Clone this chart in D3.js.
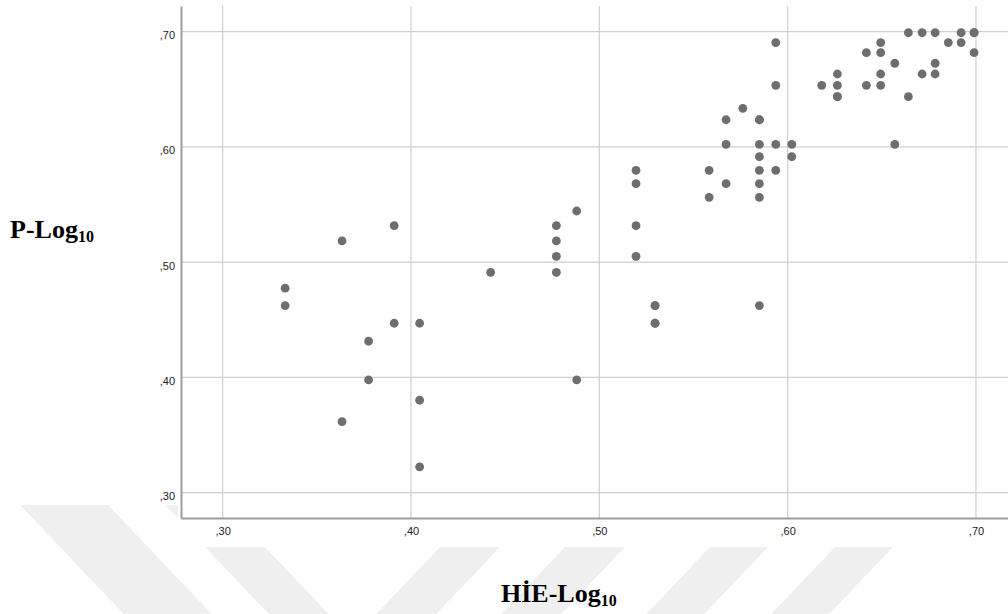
<!DOCTYPE html>
<html>
<head>
<meta charset="utf-8">
<script src="https://cdn.jsdelivr.net/npm/d3@7"></script>
<style>
  body { margin: 0; background: #fff; }
</style>
</head>
<body>
<div id="chart"></div>
<script>
// HİE-Log10 (x) and P-Log10 (y) values
const hieLog = [
  0.3911, 0.3634, 0.3332, 0.3332, 0.3911, 0.4046, 0.3775, 0.3775, 0.4046, 0.3634,
  0.4046, 0.4423, 0.4772, 0.4772, 0.4772, 0.4772, 0.4880, 0.5195, 0.5195, 0.5195,
  0.5195, 0.5296, 0.5296, 0.5296, 0.5296, 0.4880, 0.5583, 0.5583, 0.5673, 0.5850,
  0.5850, 0.5850, 0.5850, 0.5937, 0.5937, 0.5937, 0.5762, 0.5673, 0.5850, 0.5850,
  0.5673, 0.5850, 0.5937, 0.6022, 0.5850, 0.6022, 0.6569, 0.6181, 0.6264, 0.6264,
  0.6264, 0.6264, 0.6418, 0.6418, 0.6494, 0.6494, 0.6494, 0.6494, 0.6569, 0.6641,
  0.6641, 0.6714, 0.6714, 0.6783, 0.6783, 0.6783, 0.6853, 0.6921, 0.6921, 0.6990,
  0.6990, 0.6990
];
const pLog = [
  0.5317, 0.5184, 0.4774, 0.4623, 0.4470, 0.4470, 0.4314, 0.3978, 0.3802, 0.3616,
  0.3223, 0.4912, 0.5317, 0.5184, 0.5051, 0.4912, 0.5444, 0.5797, 0.5681, 0.5317,
  0.5051, 0.4623, 0.4623, 0.4470, 0.4470, 0.3978, 0.5797, 0.5563, 0.5681, 0.5797,
  0.5681, 0.5563, 0.4623, 0.5797, 0.6906, 0.6535, 0.6335, 0.6236, 0.6236, 0.6236,
  0.6023, 0.6023, 0.6023, 0.6023, 0.5915, 0.5915, 0.6023, 0.6535, 0.6633, 0.6535,
  0.6436, 0.6436, 0.6818, 0.6535, 0.6906, 0.6818, 0.6633, 0.6535, 0.6726, 0.6991,
  0.6436, 0.6991, 0.6633, 0.6991, 0.6726, 0.6633, 0.6906, 0.6991, 0.6906, 0.6991,
  0.6991, 0.6818
];
const xTicks = [0.30, 0.40, 0.50, 0.60, 0.70];
const yTicks = [0.30, 0.40, 0.50, 0.60, 0.70];

const W = 1008, H = 614;
const svg = d3.select('#chart').append('svg')
  .attr('width', W)
  .attr('height', H);

// faint background watermark stripes below the chart
const clip = svg.append('clipPath').attr('id', 'wm');
clip.append('rect').attr('x', 0).attr('y', 505).attr('width', 178).attr('height', 109);
clip.append('rect').attr('x', 0).attr('y', 547).attr('width', W).attr('height', 67);

const stripes = [
  { x0: 60, w: 88, dir: 1 },
  { x0: 205, w: 60, dir: 1 },
  { x0: 440, w: 60, dir: -1 },
  { x0: 565, w: 60, dir: -1 },
  { x0: 710, w: 58, dir: -1 },
  { x0: 835, w: 58, dir: -1 }
];
svg.append('g')
  .attr('clip-path', 'url(#wm)')
  .selectAll('polygon')
  .data(stripes)
  .enter().append('polygon')
  .attr('points', d => {
    const yt = 505, yb = 614, k = 0.95 * d.dir;
    const xt = d.x0 + (yt - 547) * k, xb = d.x0 + (yb - 547) * k;
    return [[xt, yt], [xt + d.w, yt], [xb + d.w, yb], [xb, yb]].join(' ');
  })
  .attr('fill', '#efefef');

const x = d3.scaleLinear().domain([0.2779, 0.717]).range([181, 1008]);
const y = d3.scaleLinear().domain([0.278, 0.7223]).range([518, 6]);

const fmt = d => d3.format('.2f')(d).replace(/^0\./, ',');

// grid
svg.append('g').selectAll('line')
  .data(xTicks)
  .enter().append('line')
  .attr('x1', d => x(d)).attr('x2', d => x(d))
  .attr('y1', y.range()[1]).attr('y2', y.range()[0])
  .attr('stroke', '#cfcfcf')
  .attr('stroke-width', 1.2);
svg.append('g').selectAll('line')
  .data(yTicks)
  .enter().append('line')
  .attr('x1', x.range()[0]).attr('x2', x.range()[1])
  .attr('y1', d => y(d)).attr('y2', d => y(d))
  .attr('stroke', '#cfcfcf')
  .attr('stroke-width', 1.2);

// axes
const xAxis = svg.append('g')
  .attr('transform', `translate(0,${y.range()[0]})`)
  .call(d3.axisBottom(x).tickValues(xTicks).tickFormat(fmt).tickSize(0).tickSizeOuter(0).tickPadding(9));
const yAxis = svg.append('g')
  .attr('transform', `translate(${x.range()[0]},0)`)
  .call(d3.axisLeft(y).tickValues(yTicks).tickFormat(fmt).tickSize(0).tickSizeOuter(0).tickPadding(6));

[xAxis, yAxis].forEach(g => {
  g.select('.domain').attr('stroke', '#9d9d9d').attr('stroke-width', 2);
  g.selectAll('text')
    .style('font-family', '"Liberation Sans", Arial, sans-serif')
    .style('font-size', '11px')
    .attr('fill', '#222');
});
yAxis.selectAll('text').attr('dy', '0.62em');

// points
svg.append('g').selectAll('circle')
  .data(hieLog.map((v, i) => [v, pLog[i]]))
  .enter().append('circle')
  .attr('cx', d => x(d[0]))
  .attr('cy', d => y(d[1]))
  .attr('r', 4.4)
  .attr('fill', '#6e6e6e');

// axis titles
function title(tx, ty, main) {
  const t = svg.append('text')
    .attr('x', tx).attr('y', ty)
    .style('font-family', '"Liberation Serif", "Times New Roman", serif')
    .style('font-weight', 'bold')
    .style('font-size', '26px')
    .attr('fill', '#000');
  t.append('tspan').text(main);
  t.append('tspan').attr('dy', 4).style('font-size', '16px').text('10');
}
title(10, 238, 'P-Log');
title(501, 602, 'HİE-Log');
</script>
</body>
</html>
